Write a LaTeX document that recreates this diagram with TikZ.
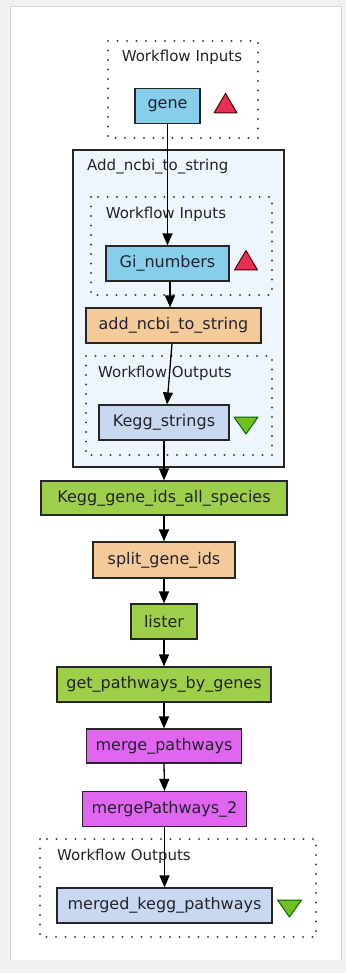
\documentclass[tikz,border=0pt]{standalone}
\usepackage{fontspec}
\setmainfont{DejaVu Sans}
\usetikzlibrary{arrows.meta,calc}
\definecolor{pagebg}{RGB}{241,241,241}
\definecolor{panelline}{RGB}{214,214,214}
\definecolor{skyfill}{RGB}{135,206,235}
\definecolor{orangefill}{RGB}{244,202,154}
\definecolor{greenfill}{RGB}{158,207,74}
\definecolor{magentafill}{RGB}{224,102,240}
\definecolor{outfill}{RGB}{200,216,240}
\definecolor{subfill}{RGB}{238,245,252}
\definecolor{dotcol}{RGB}{70,70,75}
\definecolor{redtri}{RGB}{232,48,82}
\definecolor{greentri}{RGB}{112,190,32}
\definecolor{txt}{RGB}{35,35,45}
\begin{document}
\begin{tikzpicture}[x=1pt,y=-1pt,
  box/.style={draw=black!85, line width=1.2pt, minimum height=35pt, inner sep=0pt,
    font=\fontsize{16}{17}\selectfont, text=txt},
  cluster/.style={draw=dotcol, line width=2.3pt, line cap=round, dash pattern=on 0pt off 9.5pt},
  clabel/.style={font=\fontsize{15}{16}\selectfont, text=txt, inner sep=0pt},
  edge/.style={line width=1.3pt, draw=black, -{Triangle[length=12pt,width=10pt]}},
  uptri/.style={fill=redtri, draw=black!70!red, line width=1pt, line join=round},
  downtri/.style={fill=greentri, draw=black!60!green, line width=1pt, line join=round}
]
\useasboundingbox (0,0) rectangle (346,973);
% page and panel
\fill[pagebg] (0,0) rectangle (346,973);
\fill[white] (10,7) rectangle (341,960);
\draw[panelline, line width=1pt] (10,960) -- (10,7) -- (341,7) -- (341,960);

% clusters
\draw[cluster, fill=white] (108,41) rectangle (258,138);
\node[clabel] (wi1) at (182,57) {Workflow Inputs};

\draw[black!85, line width=1.3pt, fill=subfill] (73,150) rectangle (284,467);
\node[clabel, anchor=west] (sub) at (87,167) {Add\_ncbi\_to\_string};

\draw[cluster] (91,197) rectangle (272,295);
\node[clabel] (wi2) at (166,214) {Workflow Inputs};

\draw[cluster] (86,356) rectangle (272,455);
\node[clabel] (wo1) at (165,373) {Workflow Outputs};

\draw[cluster, fill=white] (40,839) rectangle (316,937);
\node[clabel, anchor=west] (wo2) at (57,856) {Workflow Outputs};

% nodes
\node[box, fill=skyfill, minimum width=65pt] (gene) at (167.5,106) {gene};
\node[box, fill=skyfill, minimum width=123pt] (gi) at (167.5,263.5) {Gi\_numbers};
\node[box, fill=orangefill, minimum width=175pt] (add) at (173.5,325.5) {add\_ncbi\_to\_string};
\node[box, fill=outfill, minimum width=130pt] (ks) at (164,422.5) {Kegg\_strings};
\node[box, fill=greenfill, minimum width=246pt, minimum height=34pt] (kg) at (164,498) {Kegg\_gene\_ids\_all\_species};
\node[box, fill=orangefill, minimum width=142pt, minimum height=36pt] (split) at (164,560) {split\_gene\_ids};
\node[box, fill=greenfill, minimum width=66pt] (lister) at (164,621.5) {lister};
\node[box, fill=greenfill, minimum width=214pt] (gp) at (164,684.5) {get\_pathways\_by\_genes};
\node[box, fill=magentafill, minimum width=155pt, minimum height=34pt] (mp) at (164,746) {merge\_pathways};
\node[box, fill=magentafill, minimum width=164pt] (mp2) at (164.5,809) {mergePathways\_2};
\node[box, fill=outfill, minimum width=215pt] (mk) at (164.5,905.5) {merged\_kegg\_pathways};

% port markers
\draw[uptri] (214,113) -- (237,113) -- (225.5,93.5) -- cycle;
\draw[uptri] (234.5,270) -- (257.5,270) -- (246,250.5) -- cycle;
\draw[downtri] (234,417) -- (258,417) -- (246,434) -- cycle;
\draw[downtri] (277.5,900) -- (301.5,900) -- (289.5,917) -- cycle;

% edges
\draw[edge] (gene.south) -- (gi.north);
\draw[edge] ([xshift=2.5pt]gi.south) -- ([xshift=-3.5pt]add.north);
\draw[edge] ([xshift=-1.5pt]add.south) -- ([xshift=3pt]ks.north);
\draw[edge] (ks.south) -- (kg.north);
\draw[edge] (kg.south) -- (split.north);
\draw[edge] (split.south) -- (lister.north);
\draw[edge] (lister.south) -- (gp.north);
\draw[edge] (gp.south) -- (mp.north);
\draw[edge] (mp.south) -- (mp2.north);
\draw[edge] (mp2.south) -- (mk.north);
\end{tikzpicture}
\end{document}
